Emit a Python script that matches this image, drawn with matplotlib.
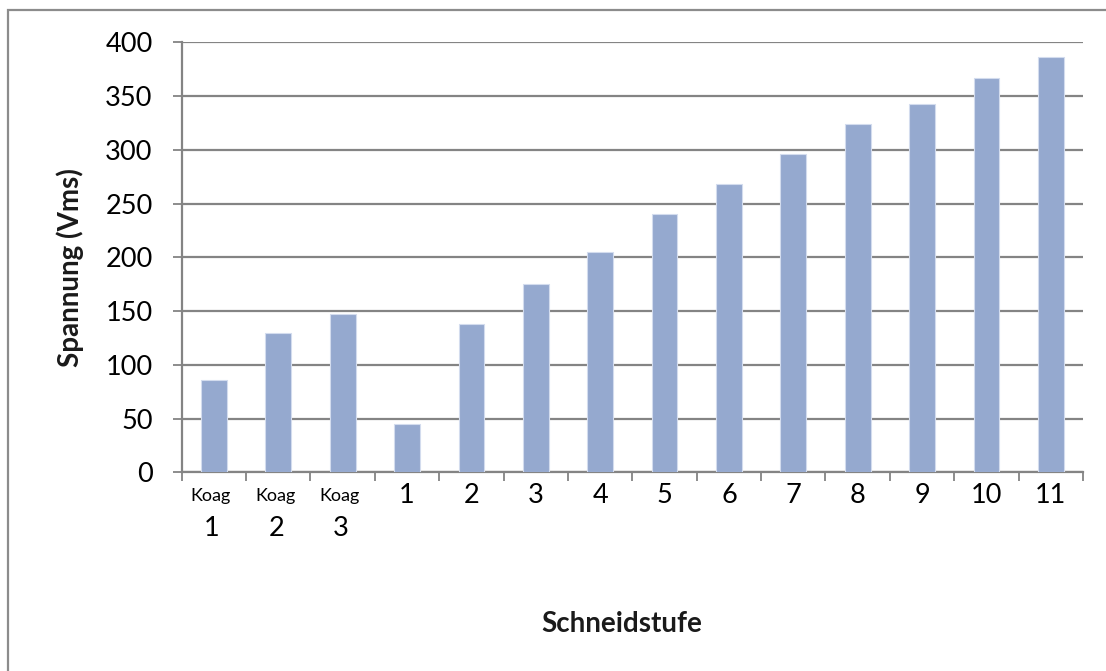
import matplotlib
matplotlib.use("Agg")
import matplotlib.pyplot as plt
from matplotlib.patches import Rectangle

# Output voltage per setting
categories = ["Koag 1", "Koag 2", "Koag 3", "1", "2", "3", "4", "5",
              "6", "7", "8", "9", "10", "11"]
voltage = [86, 130, 147, 45, 138, 175, 205, 240, 268, 296, 324, 343, 367, 386]
y_ticks = [0, 50, 100, 150, 200, 250, 300, 350, 400]

FONT = ["Lato", "DejaVu Sans"]
plt.rcParams["font.family"] = FONT

W, H, DPI = 1106, 671, 100
fig = plt.figure(figsize=(W / DPI, H / DPI), dpi=DPI)
fig.patch.set_facecolor("white")

# plot area in pixel coordinates
left, right, top, bottom = 181.7, 1083.0, 42.3, 472.3
ax = fig.add_axes([left / W, 1 - bottom / H, (right - left) / W, (bottom - top) / H])

grid_col = "#848484"
bar_col = "#95A9CF"
tick_fs = 19.5

x = list(range(len(categories)))
ax.bar(x, voltage, width=0.4, color=bar_col, edgecolor="#D3DCEE",
       linewidth=0.8, zorder=3)

ax.set_xlim(-0.5, len(categories) - 0.5)
ax.set_ylim(0, 400)

# horizontal gridlines
ax.set_yticks(y_ticks)
ax.yaxis.grid(True, color=grid_col, linewidth=1.6, zorder=1)
ax.set_axisbelow(True)
ax.tick_params(axis="y", direction="out", length=6.5, width=1.3, color=grid_col,
               labelsize=tick_fs, pad=14.5, labelcolor="black")

# category boundary ticks
ax.set_xticks([i - 0.5 for i in range(len(categories) + 1)])
ax.set_xticklabels([])
ax.tick_params(axis="x", direction="out", length=6.5, width=1.3, color=grid_col)

for side in ("top", "right"):
    ax.spines[side].set_visible(False)
for side in ("left", "bottom"):
    ax.spines[side].set_color(grid_col)
    ax.spines[side].set_linewidth(1.6)

# category labels
trans = ax.get_xaxis_transform()
for i, lab in enumerate(categories):
    parts = lab.split(" ")
    if len(parts) == 2:
        ax.text(i - 0.05, -0.055, parts[0], transform=trans, ha="center", va="center",
                fontsize=13, color="black")
        ax.text(i - 0.03, -0.13, parts[1], transform=trans, ha="center", va="center",
                fontsize=tick_fs, color="black")
    else:
        ax.text(i, -0.053, lab, transform=trans, ha="center", va="center",
                fontsize=tick_fs, color="black")

ax.text(0.488, -0.352, "Schneidstufe", transform=ax.transAxes, ha="center",
        va="center", fontsize=20, fontweight="bold", color="#1a1a1a")
ax.text(-0.124, 0.475, "Spannung (Vms)", transform=ax.transAxes, ha="center",
        va="center", rotation=90, fontsize=20, fontweight="bold", color="#1a1a1a")

# chart frame
fig.patches.append(Rectangle((8 / W, -0.1), 1.2, 1.1 - 10 / H,
                             transform=fig.transFigure, fill=False,
                             edgecolor="#8C8C8C", linewidth=1.6))

fig.savefig("out.png", dpi=DPI)
